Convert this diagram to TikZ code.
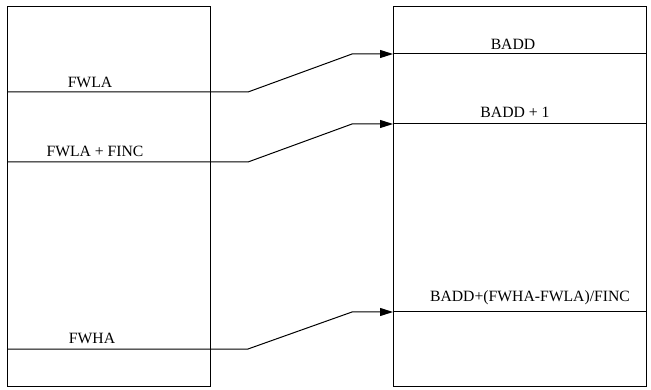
\documentclass[tikz,border=0pt]{standalone}
\usepackage{fontspec}
\setmainfont{Liberation Serif}
\usetikzlibrary{arrows.meta}
\begin{document}
\begin{tikzpicture}[x=1pt,y=-1pt,
  line/.style={draw=black,line width=1pt},
  link/.style={line,-{Triangle[length=13pt,width=8pt]}},
  lbl/.style={inner sep=0pt,font=\fontsize{15.7}{18}\selectfont}]
\useasboundingbox (0,0) rectangle (651,390);
% boxes
\draw[line] (7,7) rectangle (210,386);
\draw[line] (393,7) rectangle (646,386);
% coordinates
\coordinate (l1) at (7,92);   \coordinate (b1) at (248,92);  \coordinate (k1) at (352,54);  \coordinate (r1) at (393,54);  \coordinate (e1) at (646,54);
\coordinate (l2) at (7,162);  \coordinate (b2) at (248,162); \coordinate (k2) at (352,124); \coordinate (r2) at (393,124); \coordinate (e2) at (646,124);
\coordinate (l3) at (7,349);  \coordinate (b3) at (248,349); \coordinate (k3) at (352,312); \coordinate (r3) at (393,312); \coordinate (e3) at (646,312);
% connectors
\draw[link] (l1) -- (b1) -- (k1) -- (r1);
\draw[line] (r1) -- (e1);
\draw[link] (l2) -- (b2) -- (k2) -- (r2);
\draw[line] (r2) -- (e2);
\draw[link] (l3) -- (b3) -- (k3) -- (r3);
\draw[line] (r3) -- (e3);
% labels
\node[lbl] (t1) at (90,82) {FWLA};
\node[lbl] (t2) at (95,151) {FWLA + FINC};
\node[lbl] (t3) at (92,338) {FWHA};
\node[lbl] (u1) at (513,44) {BADD};
\node[lbl] (u2) at (515,112) {BADD + 1};
\node[lbl] (u3) at (530,298) {BADD+(FWHA-FWLA)/FINC};
\end{tikzpicture}
\end{document}
